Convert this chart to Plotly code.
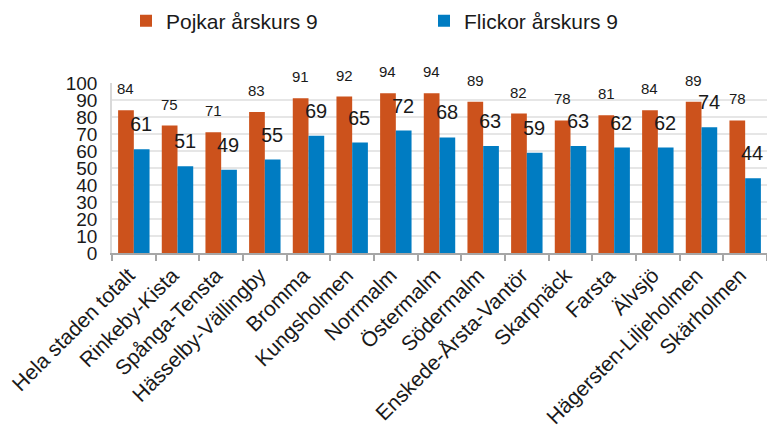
import plotly.graph_objects as go

categories = ["Hela staden totalt", "Rinkeby-Kista", "Spånga-Tensta", "Hässelby-Vällingby",
              "Bromma", "Kungsholmen", "Norrmalm", "Östermalm", "Södermalm",
              "Enskede-Årsta-Vantör", "Skarpnäck", "Farsta", "Älvsjö",
              "Hägersten-Liljeholmen", "Skärholmen"]
pojkar = [84, 75, 71, 83, 91, 92, 94, 94, 89, 82, 78, 81, 84, 89, 78]
flickor = [61, 51, 49, 55, 69, 65, 72, 68, 63, 59, 63, 62, 62, 74, 44]
y_ticks = [0, 10, 20, 30, 40, 50, 60, 70, 80, 90, 100]

ORANGE = "#CC521C"
BLUE = "#007CC2"
FONT = "Liberation Sans, Arial, sans-serif"

fig = go.Figure()
fig.add_trace(go.Bar(x=categories, y=pojkar, name="Pojkar årskurs 9",
                     marker=dict(color=ORANGE, line=dict(width=0))))
fig.add_trace(go.Bar(x=categories, y=flickor, name="Flickor årskurs 9",
                     marker=dict(color=BLUE, line=dict(width=0))))

annotations = []
for c, v in zip(categories, pojkar):
    annotations.append(dict(x=c, y=v, xref="x", yref="y", text=str(v), showarrow=False,
                            xshift=-8, yshift=11, yanchor="bottom",
                            font=dict(size=15, color="#1a1a1a", family=FONT)))
for c, v in zip(categories, flickor):
    annotations.append(dict(x=c, y=v, xref="x", yref="y", text=str(v), showarrow=False,
                            xshift=7, yshift=12, yanchor="bottom",
                            font=dict(size=20, color="#1a1a1a", family=FONT)))

W, H = 759, 419
fig.update_layout(
    width=W, height=H,
    margin=dict(l=104, r=0, t=75, b=H - 245, autoexpand=False),
    paper_bgcolor="white", plot_bgcolor="white",
    barmode="group", bargap=0.28, bargroupgap=0,
    font=dict(family=FONT, color="#1a1a1a"),
    legend=dict(orientation="h", xref="container", yref="container",
                x=118 / W, y=1 - 13 / H, xanchor="left", yanchor="middle",
                entrywidth=253, font=dict(size=21, family=FONT),
                itemclick=False, bgcolor="rgba(0,0,0,0)"),
    annotations=annotations,
    xaxis=dict(showline=True, linecolor="#A6A6A6", linewidth=1.5, automargin=False,
               ticks="outside", tickson="boundaries", ticklen=6, tickcolor="#A6A6A6",
               tickwidth=1.5, tickangle=-45, tickfont=dict(size=21, family=FONT),
               ticklabelshift=-5, showgrid=False),
    yaxis=dict(range=[0, 100], tickvals=y_ticks, showgrid=True, gridcolor="#E6E6E6",
               gridwidth=1.5, showline=True, linecolor="#D9D9D9", linewidth=1.5,
               automargin=False, ticks="", tickfont=dict(size=19, family=FONT),
               zeroline=False, ticklabelstandoff=9),
)

fig.write_html("out.html")
